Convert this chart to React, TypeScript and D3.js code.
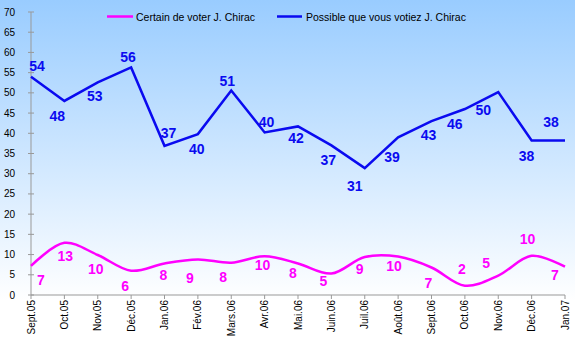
import React from 'react';
import * as d3 from 'd3';

const MONTHS = [
  'Sept.05', 'Oct.05', 'Nov.05', 'Déc.05', 'Jan.06', 'Fév.06', 'Mars.06', 'Avr.06', 'Mai.06',
  'Juin.06', 'Juil.06', 'Août.06', 'Sept.06', 'Oct.06', 'Nov.06', 'Déc.06', 'Jan.07',
];

const CERTAIN = [7.2, 12.9, 9.9, 6.0, 7.8, 8.8, 8.0, 9.6, 7.8, 5.3, 9.4, 9.5, 6.8, 2.3, 4.8, 9.7, 7.0];
const POSSIBLE = [54, 48, 52.6, 56.3, 36.9, 39.8, 50.6, 40.2, 41.7, 37, 31.4, 39, 43, 46, 50.2, 38.2, 38.2];

const Y_TICKS = [0, 5, 10, 15, 20, 25, 30, 35, 40, 45, 50, 55, 60, 65, 70];

const SERIES_NAMES = ['Certain de voter J. Chirac', 'Possible que vous votiez J. Chirac'];

// label nudges (dx, baseline dy) relative to each point
const CERTAIN_OFF: [number, number][] = [
  [10, 19], [1, 18], [-2, 19], [-6, 20], [-1, 17], [-8, 24], [-8, 19], [-2, 14], [-5, 15],
  [-8, 12], [-5, 17], [-4, 14], [-3, 20], [-3, -12], [-12, -8], [-4, -12], [-10, 13],
];
const POSSIBLE_OFF: [number, number][] = [
  [6, -6], [-7, 20], [-3, 19], [-3, -5], [4, -8], [-1, 20], [-4, -4], [2, -5], [-2, 17],
  [-3, 20], [-10, 23], [-6, 25], [-3, 19], [-10, 20], [-15, 23], [-5, 20], [-14, -14],
];

const W = 575;
const H = 362;
const MAGENTA = '#FF00FF';
const BLUE = '#0A0AF0';

const App: React.FC = () => {
  const x = d3.scalePoint<string>().domain(MONTHS).range([31, 565]);
  const y = d3.scaleLinear().domain([0, 70]).range([295, 12]);

  const smoothLine = d3.line<number>()
    .x((_, i) => x(MONTHS[i]) as number)
    .y(d => y(d))
    .curve(d3.curveCatmullRom.alpha(0.5));

  const straightLine = d3.line<number>()
    .x((_, i) => x(MONTHS[i]) as number)
    .y(d => y(d));

  const labelFont = { fontFamily: 'Arial, "Liberation Sans", sans-serif', fontSize: 14, fontWeight: 700 };
  const tickFont = { fontFamily: 'Arial, "Liberation Sans", sans-serif', fontSize: 10 };

  return (
    <div style={{ position: 'absolute', left: 0, top: 0 }}>
      <svg width={W} height={H}>
        <defs>
          <linearGradient id="bg" x1="0" y1="0" x2="0" y2="1">
            <stop offset="0" stopColor="#99CCFF" />
            <stop offset="0.83" stopColor="#FFFFFF" />
            <stop offset="1" stopColor="#FFFFFF" />
          </linearGradient>
        </defs>
        <rect x={0} y={0} width={W} height={H} fill="url(#bg)" />

        {/* y axis */}
        <line x1={31} x2={31} y1={y(70)} y2={y(0)} stroke="#999" strokeWidth={1} />
        {Y_TICKS.map(t => (
          <g key={t}>
            <line x1={28} x2={34} y1={y(t)} y2={y(t)} stroke="#999" />
            <text x={15} y={y(t) + 3.5} textAnchor="end" fill="#000" style={tickFont}>{t}</text>
          </g>
        ))}

        {/* x axis */}
        <line x1={31} x2={565} y1={y(0)} y2={y(0)} stroke="#999" strokeWidth={1} />
        {MONTHS.map(m => {
          const px = x(m) as number;
          return (
            <g key={m}>
              <line x1={px} x2={px} y1={y(0)} y2={y(0) + 4} stroke="#999" />
              <text
                transform={`translate(${px + 3.5},${y(0) + 5}) rotate(-90)`}
                textAnchor="end"
                fill="#000"
                style={tickFont}
              >
                {m}
              </text>
            </g>
          );
        })}

        {/* series */}
        <path d={smoothLine(CERTAIN) || ''} fill="none" stroke={MAGENTA} strokeWidth={2.5} />
        <path d={straightLine(POSSIBLE) || ''} fill="none" stroke={BLUE} strokeWidth={2.5} strokeLinejoin="miter" />

        {CERTAIN.map((v, i) => (
          <text
            key={'c' + i}
            x={(x(MONTHS[i]) as number) + CERTAIN_OFF[i][0]}
            y={y(v) + CERTAIN_OFF[i][1]}
            textAnchor="middle"
            fill={MAGENTA}
            style={labelFont}
          >
            {Math.round(v)}
          </text>
        ))}
        {POSSIBLE.map((v, i) => (
          <text
            key={'p' + i}
            x={(x(MONTHS[i]) as number) + POSSIBLE_OFF[i][0]}
            y={y(v) + POSSIBLE_OFF[i][1]}
            textAnchor="middle"
            fill={BLUE}
            style={labelFont}
          >
            {Math.round(v)}
          </text>
        ))}

        {/* legend */}
        <line x1={107} x2={133} y1={16.5} y2={16.5} stroke={MAGENTA} strokeWidth={2.5} />
        <text x={136} y={20.5} fill="#000" style={{ ...tickFont, fontSize: 10.5 }}>{SERIES_NAMES[0]}</text>
        <line x1={277} x2={302} y1={16.5} y2={16.5} stroke={BLUE} strokeWidth={2.5} />
        <text x={306} y={20.5} fill="#000" style={{ ...tickFont, fontSize: 10.5 }}>{SERIES_NAMES[1]}</text>
      </svg>
    </div>
  );
};

export default App;
